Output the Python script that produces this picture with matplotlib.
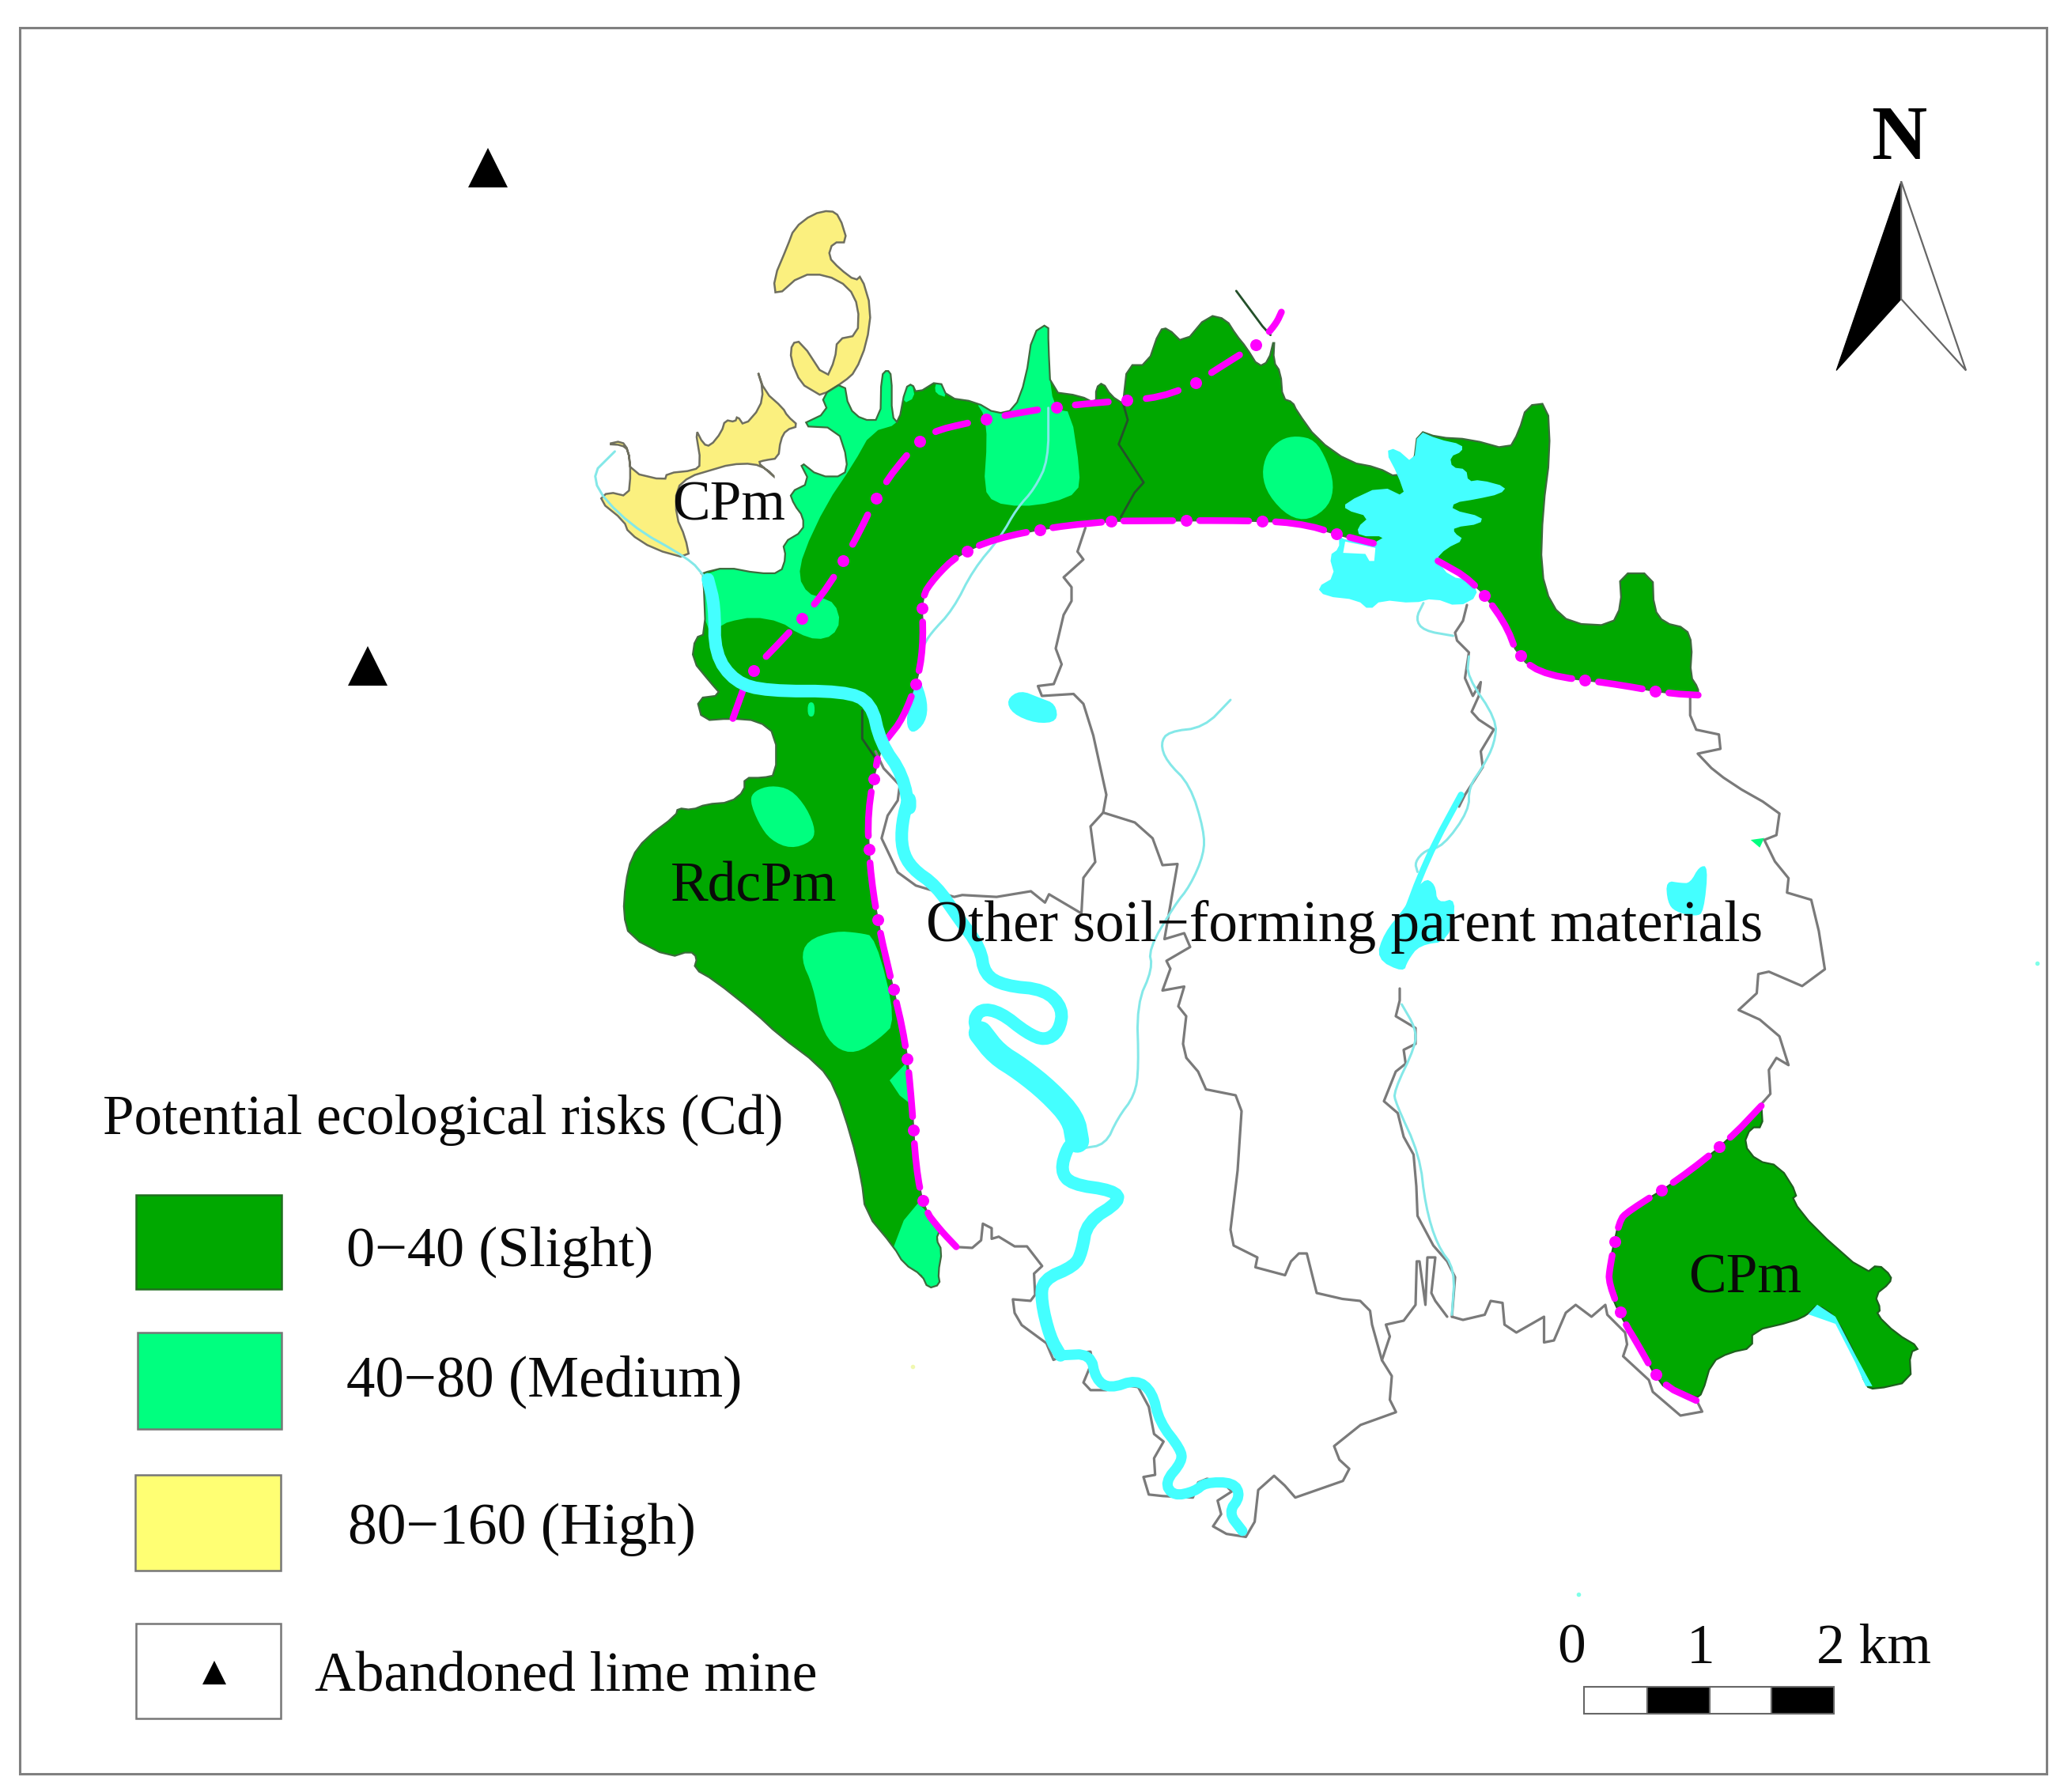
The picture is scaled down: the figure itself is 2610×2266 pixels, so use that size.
import math
import matplotlib
matplotlib.use('Agg')
import matplotlib.pyplot as plt
from matplotlib.patches import Polygon, Rectangle

plt.rcParams['font.family'] = ['Liberation Serif', 'DejaVu Serif']

C1 = (700, 230, .574, .5102)
C2 = (1400, 350, .5102, .4464)
C3 = (750, 950, .5102, .4783)
C4 = (1100, 1400, .4464, .3827)
C5 = (1900, 850, .3827, .6059)
C7 = (1250, 650, .5, .5)
C8 = (1500, 1250, .5, .5)
OV = (0, 0, 1.673, 1.673)


def px(crop, pts):
    return [(crop[0] + x * crop[2], crop[1] + y * crop[3]) for x, y in pts]


def smooth(pts, n=2, closed=True):
    for _ in range(n):
        new = [] if closed else [pts[0]]
        m = len(pts)
        for i in range(m if closed else m - 1):
            a, b = pts[i], pts[(i + 1) % m]
            new.append((.75 * a[0] + .25 * b[0], .75 * a[1] + .25 * b[1]))
            new.append((.25 * a[0] + .75 * b[0], .25 * a[1] + .75 * b[1]))
        if not closed:
            new.append(pts[-1])
        pts = new
    return pts


# ---- risk zones ----
zone_main = (
    px(C1, [(330, 975), (335, 1120), (312, 1130), (305, 1185), (345, 1240), (370, 1272), (315, 1280), (328, 1335),
            (390, 1330), (450, 1335), (490, 1370), (490, 1470)])
    + px(C3, [(420, 70), (375, 70), (375, 105), (340, 135), (280, 140), (245, 155), (210, 150), (205, 170), (130, 230),
              (95, 280), (80, 350), (75, 430), (90, 490), (190, 545), (240, 528), (258, 545), (250, 575), (300, 605),
              (400, 690), (460, 750), (560, 830), (600, 890), (640, 1020), (665, 1130), (675, 1220), (745, 1310),
              (770, 1355), (815, 1385), (830, 1420), (860, 1410), (855, 1380), (865, 1320), (850, 1290), (860, 1265),
              (820, 1210), (800, 1100), (790, 930), (775, 770), (740, 610), (705, 450), (685, 300), (680, 160),
              (705, 20)])
    + px(C1, [(735, 1380), (770, 1330), (805, 1225), (815, 1130), (810, 1030), (840, 980), (890, 925), (970, 885),
              (1100, 855), (1240, 840)])
    + px(C2, [(0, 692), (300, 690), (470, 695), (600, 740), (660, 755), (820, 805), (905, 860), (985, 975), (1020, 1080),
              (1090, 1130), (1240, 1150), (1390, 1180), (1465, 1185), (1465, 1165), (1445, 1130), (1450, 1040),
              (1435, 995), (1380, 980), (1355, 940), (1352, 840), (1270, 840), (1275, 930), (1250, 988), (1150, 982),
              (1100, 930), (1075, 830), (1080, 660), (1098, 500), (1092, 358), (1040, 365), (1020, 440), (995, 490),
              (900, 460), (820, 455), (770, 435), (760, 530), (720, 570), (670, 540), (600, 525), (520, 460), (470, 380),
              (460, 355), (435, 345), (430, 270), (412, 240), (415, 170), (400, 240), (375, 255), (345, 200), (320, 165),
              (295, 120), (250, 108), (190, 190), (150, 145), (130, 150), (100, 250), (50, 250), (40, 350)])
    + px(C1, [(1255, 550), (1228, 530), (1210, 497), (1195, 510), (1195, 550), (1160, 530), (1095, 520), (1090, 400),
              (1090, 350), (1055, 375), (1040, 490), (1015, 565), (975, 575), (930, 545), (868, 535), (850, 490),
              (800, 525), (790, 500), (775, 510), (760, 600), (745, 580), (745, 480), (735, 465), (722, 480), (720, 590),
              (680, 590), (650, 560), (640, 495), (590, 530), (605, 570), (540, 605), (625, 610), (648, 690), (640, 730),
              (585, 730), (540, 690), (565, 745), (520, 770), (530, 800), (550, 830), (550, 865), (505, 895), (512, 930),
              (500, 970), (450, 970), (380, 955), (325, 970)])
)
zone_south = px(C5, [(855, 900), (860, 950), (820, 950), (797, 985), (840, 1020), (915, 1030), (975, 1090), (955, 1100),
                     (1030, 1160), (1200, 1255), (1240, 1235), (1285, 1260), (1280, 1275), (1230, 1300), (1250, 1330),
                     (1235, 1340), (1300, 1380), (1380, 1410), (1345, 1420), (1350, 1480), (1230, 1497), (1200, 1490),
                     (1170, 1430), (1100, 1345), (1040, 1320), (1010, 1340), (960, 1355), (825, 1375), (825, 1410),
                     (750, 1420), (690, 1440), (660, 1505), (640, 1515), (560, 1500), (520, 1485), (440, 1395),
                     (405, 1360), (365, 1310), (345, 1270), (355, 1230), (385, 1145), (415, 1125), (580, 1060),
                     (750, 975)])

medium_west = px(C1, [(590, 530), (640, 495), (650, 560), (680, 590), (720, 590), (722, 480), (735, 465), (745, 480),
                      (745, 580), (760, 600), (700, 620), (660, 700), (600, 800), (550, 920), (540, 980), (560, 1020),
                      (590, 1030), (620, 1045), (632, 1090), (615, 1125), (580, 1135), (540, 1120), (500, 1090),
                      (440, 1078), (385, 1090), (370, 1100), (335, 1120), (330, 975), (380, 955), (450, 970), (500, 970),
                      (512, 930), (505, 895), (550, 865), (550, 830), (530, 800), (520, 770), (565, 745), (540, 690),
                      (585, 730), (640, 730), (648, 690), (625, 610), (540, 605), (605, 570)])
medium_north = px(C1, [(1085, 350), (1092, 350), (1090, 400), (1095, 520), (1110, 565), (1140, 570), (1160, 720),
                       (1155, 770), (1100, 795), (1030, 805), (970, 795), (948, 760), (955, 640), (950, 580), (930, 545),
                       (975, 575), (1015, 565), (1040, 490), (1055, 375)])
medium_slivers = [px(C1, [(775, 510), (790, 500), (796, 535), (770, 550)]),
                  px(C1, [(840, 505), (850, 490), (868, 535), (842, 525)])]
medium_blobs = [
    px(C2, [(470, 450), (515, 462), (545, 520), (563, 590), (550, 650), (500, 690), (450, 680), (400, 620), (383, 560),
            (395, 500), (430, 460)]),
    px(C3, [(440, 90), (490, 100), (530, 150), (552, 210), (540, 240), (490, 258), (440, 235), (410, 190), (388, 130),
            (400, 105)]),
    px(C1, [(560, 1290), (575, 1290), (575, 1325), (560, 1325)]),
    px(C3, [(600, 475), (660, 480), (700, 490), (752, 715), (710, 760), (650, 800), (600, 785), (565, 730), (545, 620),
            (515, 550), (530, 500)]),
]
medium_edge = [
    px(C3, [(775, 825), (735, 870), (760, 910), (790, 935)]),
    px(C3, [(805, 1195), (770, 1240), (745, 1310), (770, 1355), (815, 1385), (830, 1420), (860, 1410), (855, 1380),
            (865, 1320), (850, 1290), (860, 1265), (820, 1210)]),
    px(C1, [(250, 915), (290, 905), (303, 938)]),
]
medium_speck = px(C5, [(820, 350), (865, 346), (850, 366)])

high_north = px(C1, [(610, 70), (630, 85), (648, 150), (615, 150), (605, 185), (630, 215), (665, 245), (678, 232),
                     (700, 315), (690, 400), (665, 470), (640, 495), (590, 530), (575, 520), (545, 500), (522, 440),
                     (525, 400), (545, 395), (600, 490), (620, 440), (625, 390), (670, 380), (672, 310), (650, 260),
                     (600, 230), (545, 230), (490, 285), (485, 240), (515, 160), (530, 115), (570, 80)])
high_west = px(C1, [(118, 650), (150, 642), (165, 665), (170, 720), (245, 740), (250, 722), (310, 715), (325, 700),
                    (312, 610), (330, 650), (345, 655), (370, 620), (378, 590), (400, 595), (405, 580), (420, 605),
                    (455, 560), (462, 515), (447, 460), (465, 520), (505, 560), (515, 580), (540, 605), (512, 615),
                    (500, 640), (495, 685), (465, 690), (450, 695), (470, 715), (490, 735), (470, 712), (440, 698),
                    (390, 700), (345, 715), (300, 730), (270, 760), (270, 830), (290, 880), (300, 935), (220, 910),
                    (165, 870), (155, 840), (100, 790), (120, 768), (165, 780), (170, 720), (165, 665), (150, 652)])

# ---- water ----
lake = px(C2, [(770, 435), (820, 460), (880, 475), (880, 495), (850, 510), (855, 540), (890, 545), (895, 580), (925, 575),
               (990, 595), (975, 615), (915, 630), (860, 640), (855, 660), (930, 680), (925, 700), (860, 710), (860, 725),
               (885, 745), (840, 770), (815, 800), (850, 850), (905, 860), (920, 905), (870, 935), (810, 910), (760, 925),
               (680, 915), (650, 945), (620, 915), (540, 905), (520, 880), (565, 850), (550, 790), (575, 770), (575, 735),
               (590, 745), (620, 750), (660, 755), (690, 735), (625, 735), (620, 710), (650, 680), (590, 660), (590, 640),
               (680, 592), (740, 625), (720, 560), (690, 495), (715, 485), (760, 530)])
lake_hole = px(C2, [(585, 782), (640, 785), (650, 805), (662, 805), (665, 768), (625, 758), (590, 750)])
ponds = [
    px(C7, [(45, 470), (80, 445), (130, 465), (170, 480), (175, 525), (120, 530), (60, 505)]),
    px(C1, [(805, 1225), (825, 1290), (820, 1340), (790, 1370), (775, 1340), (790, 1270)]),
    px(C5, [(540, 435), (590, 440), (620, 440), (650, 405), (680, 405), (665, 500), (640, 510), (570, 500), (545, 480)]),
    px(C7, [(1000, 1060), (1050, 1000), (1100, 920), (1130, 935), (1135, 985), (1185, 970), (1165, 1080), (1090, 1090),
            (1060, 1130), (1050, 1160), (980, 1125)]),
]
sliver_south = px(C5, [(1010, 1340), (1040, 1320), (1100, 1345), (1170, 1430), (1222, 1490), (1200, 1490), (1165, 1440),
                       (1100, 1360)])
specks = [(1193, 1205, '#7fffe8'), (1540, 728, '#7fffe8'), (690, 1033, '#f0f8b0')]

river_upper = px(C1, [(340, 985), (355, 1050), (355, 1170), (400, 1240), (470, 1262), (640, 1262), (700, 1290), (720, 1390),
                      (770, 1470), (785, 1568)]) + px(C3, [(785, 110), (765, 190), (765, 260), (790, 310), (850, 355),
                                                          (905, 440), (960, 520), (970, 590), (1020, 620), (1120, 630),
                                                          (1165, 680), (1155, 740), (1120, 765), (1075, 745), (1010, 690),
                                                          (960, 680), (940, 720), (980, 785)])
river_wide = px(C3, [(960, 745), (1000, 800), (1060, 840), (1130, 900), (1190, 970), (1200, 1030)])
river_lower = px(C4, [(585, 112), (560, 130), (540, 210), (570, 255), (690, 275), (710, 310), (615, 380), (600, 480),
                      (580, 525), (490, 570), (485, 640), (510, 760), (540, 820)])
river_south = px(C4, [(540, 820), (625, 815), (640, 900), (680, 930), (755, 900), (800, 940), (820, 1040), (880, 1130),
                      (885, 1170), (835, 1240), (860, 1285), (920, 1270), (950, 1240), (1030, 1240), (1050, 1285),
                      (1015, 1340), (1055, 1400)])
river_tangle = px(C7, [(1195, 710), (1130, 830), (1090, 920), (1060, 1000)])

streams = [
    px(C1, [(135, 668), (75, 735), (165, 850), (300, 935), (330, 975)]),
    px(C1, [(1090, 560), (1090, 690), (1060, 760), (1020, 810), (985, 880), (925, 960), (880, 1060), (830, 1120),
            (815, 1150)]),
    px(C7, [(612, 470), (545, 540), (455, 550), (435, 580), (450, 625), (510, 685), (545, 800), (545, 860), (510, 940),
            (470, 990), (405, 1100), (415, 1150), (375, 1240), (380, 1400), (370, 1470)])
    + px(C3, [(1300, 970), (1270, 1040), (1210, 1050)]),
    px(C7, [(1100, 225), (1080, 265), (1100, 295), (1175, 308)]),
    px(C7, [(1215, 360), (1210, 410), (1285, 520), (1280, 580), (1250, 640), (1215, 690), (1215, 750), (1150, 840),
            (1105, 850), (1078, 880), (1085, 905)]),
    px(C8, [(545, 40), (580, 100), (580, 145), (525, 260), (530, 290), (590, 420), (605, 550), (635, 650), (680, 710),
            (672, 825)]),
]

# ---- boundaries ----
border_sw = px(C4, [(245, 462), (290, 465), (315, 440), (320, 385), (345, 400), (345, 435), (365, 428), (410, 460),
                    (445, 460), (488, 525), (465, 550), (468, 620), (455, 640), (405, 635), (410, 680), (430, 720),
                    (500, 780), (520, 835), (560, 815), (625, 808), (630, 840), (605, 910), (625, 935), (670, 935),
                    (720, 918), (760, 925), (790, 990), (805, 1080), (832, 1105), (805, 1160), (808, 1215), (775, 1222),
                    (790, 1280), (830, 1285), (915, 1290), (930, 1240), (955, 1228), (1000, 1240), (1025, 1270),
                    (985, 1300), (995, 1345), (972, 1385), (1010, 1410), (1065, 1420), (1090, 1370), (1100, 1265),
                    (1145, 1218), (1175, 1250), (1205, 1290), (1340, 1235), (1358, 1195), (1330, 1165), (1315, 1120),
                    (1390, 1050), (1490, 1008)])
border_mid = (
    px(C8, [(530, 1070), (515, 1040), (520, 980), (495, 940), (470, 850), (465, 815), (440, 790), (395, 785), (330, 770),
            (305, 670), (285, 670), (265, 690), (250, 725), (175, 705), (180, 680), (120, 650), (112, 610), (130, 460),
            (140, 310), (125, 270), (50, 255), (30, 210), (0, 175)])
    + px(C7, [(500, 1374), (492, 1340), (500, 1270), (480, 1245), (495, 1195), (440, 1205), (460, 1150), (450, 1130),
              (510, 1095), (495, 1060), (445, 1075), (478, 885), (440, 888), (415, 820), (370, 780), (290, 755),
              (298, 710), (265, 560), (240, 480), (215, 455), (135, 460), (125, 435), (165, 430), (185, 380), (170, 340),
              (190, 255), (210, 220), (210, 185), (190, 160), (240, 115), (225, 95), (245, 35)])
)
border_branch = (
    px(C7, [(290, 755), (258, 790), (270, 880), (240, 920), (235, 1010)])
    + px(C3, [(1130, 378), (1120, 400), (1085, 370), (1000, 385), (915, 380), (895, 385), (800, 355), (755, 320), (715, 230),
              (730, 170), (755, 130), (760, 90), (720, 45), (700, 0)])
)
border_east = (
    px(C7, [(1210, 230), (1200, 270), (1180, 300), (1185, 320), (1215, 350), (1205, 415), (1225, 460), (1245, 425),
            (1240, 460), (1222, 500), (1240, 520), (1278, 545), (1245, 600), (1250, 640), (1205, 710), (1190, 740)])
)
border_stem = px(C8, [(540, 0), (540, 30), (530, 70), (580, 100), (580, 140), (550, 155), (555, 190), (530, 210), (500, 285),
                      (535, 315), (550, 375), (575, 420), (582, 500), (585, 575), (625, 650), (660, 690), (680, 730),
                      (672, 830)])
border_south = px(C8, [(660, 830), (630, 790), (620, 770), (630, 680), (610, 680), (605, 800), (590, 690), (583, 690),
                       (580, 800), (550, 840), (505, 850), (515, 880), (495, 940)])
border_se = px(C8, [(672, 830), (700, 838), (755, 825), (770, 790), (800, 795), (805, 850), (835, 870), (905, 830), (905, 895),
                    (930, 890), (960, 820), (985, 800), (1025, 830), (1060, 800), (1065, 825), (1110, 870), (1115, 900),
                    (1105, 930), (1170, 990), (1180, 1020), (1250, 1080), (1305, 1070), (1290, 1040)])
border_ne = px(C5, [(620, 50), (620, 90), (640, 120), (715, 130), (720, 160), (645, 170), (690, 200), (730, 220), (790, 245),
                    (860, 270), (915, 295), (905, 340), (865, 350), (900, 395), (945, 430), (940, 460), (1020, 475),
                    (1045, 540), (1065, 620), (990, 655), (880, 625), (845, 630), (840, 670), (780, 705), (850, 725),
                    (915, 760), (945, 820), (905, 805), (880, 830), (885, 880), (850, 905)])
border_in_green = [px(C1, [(1255, 550), (1265, 590), (1245, 650), (1300, 745), (1280, 770), (1250, 830)]),
                   px(C1, [(680, 1310), (680, 1380), (710, 1430)]),
                   px(C2, [(320, 40), (385, 140), (405, 165)])]

# parent material boundaries
line_cpm_north = px(C1, [(395, 1330), (430, 1220), (500, 1140), (590, 1030), (660, 900), (720, 760), (790, 660), (830, 620),
                         (920, 595), (1085, 560), (1220, 545), (1340, 535), (1430, 490)]) \
    + px(C2, [(240, 285), (330, 220), (365, 195), (395, 165), (420, 130), (432, 100)])
line_rdc_east = px(C3, [(900, 1310), (860, 1265), (820, 1210), (800, 1100), (790, 930), (775, 770), (740, 610), (705, 450),
                        (685, 300), (680, 160), (705, 20)])
line_rdc_north = px(C1, [(735, 1380), (770, 1330), (805, 1225), (815, 1130), (810, 1030), (840, 980), (890, 925), (970, 885),
                         (1100, 855), (1240, 840)]) + px(C2, [(0, 692), (300, 690), (470, 695), (590, 735), (660, 755)])
line_lake_east = px(C2, [(820, 805), (905, 860), (985, 975), (1020, 1080), (1090, 1130), (1240, 1150), (1390, 1180),
                         (1465, 1185)])
line_south = px(C5, [(855, 905), (750, 975), (580, 1060), (415, 1125), (385, 1145), (355, 1240), (350, 1275), (405, 1360),
                     (440, 1395), (520, 1485), (640, 1520)])

# ---- sites, legend, scale ----
mines_x = [369, 278]
mines_y = [127, 503]
legend_boxes = [(103, 903, 110, 71, '#00a800', '#1f6f1f'), (104, 1007, 109, 73, '#00ff7f', '#777777'),
                (102, 1115, 110, 72, '#ffff73', '#777777'), (103, 1227, 109, 72, '#ffffff', '#777777')]
scale_edges = [1197, 1245, 1292, 1339, 1386]
scale_fill = ['white', 'black', 'white', 'black']
labels = [('CPm', 508, 393, 51.5), ('RdcPm', 507, 681, 51.5), ('Other soil\u2212forming parent materials', 700, 711, 52.8),
          ('CPm', 1276, 977, 51.5), ('Potential ecological risks (Cd)', 78, 857, 51), ('0\u221240 (Slight)', 262, 957, 52),
          ('40\u221280 (Medium)', 262, 1055, 52.5), ('80\u2212160 (High)', 263, 1167, 53),
          ('Abandoned lime mine', 238, 1278, 51.5), ('0', 1177, 1257, 51.5), ('1', 1275, 1257, 51.5),
          ('2 km', 1373, 1257, 51.5)]

DARK, MEDIUM, YELLOW, CYAN, MAGENTA = '#00a800', '#00ff7f', '#fbf07f', '#44ffff', '#ff00ff'
THIN, GREY = '#84e8e8', '#7a7a7a'

fig = plt.figure(figsize=(26.1, 22.66), dpi=100)
ax = fig.add_axes([0, 0, 1, 1])
ax.set_xlim(0, 2610)
ax.set_ylim(2266, 0)
ax.axis('off')


def line(pts, color, lw, **kw):
    ax.plot([p[0] for p in pts], [p[1] for p in pts], color=color, lw=lw * .72, solid_joinstyle='round',
            solid_capstyle='round', **kw)


def dash_dot(pts, dash, gap, lw=8.5, dot=15):
    # walk along the line, long dash then round dot, like the map's line symbol
    pts = smooth(pts, 2, closed=False)
    lengths = [math.dist(a, b) for a, b in zip(pts[:-1], pts[1:])]
    cycle = [('dash', dash), ('gap', gap), ('dot', 0), ('gap', gap)]
    idx, left, cur, dots = 0, dash, [pts[0]], []
    for a, b, seg in zip(pts[:-1], pts[1:], lengths):
        done = 0
        while seg - done > left:
            done += left
            t = done / seg
            q = (a[0] + (b[0] - a[0]) * t, a[1] + (b[1] - a[1]) * t)
            if cycle[idx][0] == 'dash':
                cur.append(q)
                line(cur, MAGENTA, lw)
            idx = (idx + 1) % 4
            if cycle[idx][0] == 'dot':
                dots.append(q)
                idx = (idx + 1) % 4
            left = cycle[idx][1]
            cur = [q]
        left -= seg - done
        if cycle[idx][0] == 'dash':
            cur.append(b)
    if cycle[idx][0] == 'dash' and len(cur) > 1:
        line(cur, MAGENTA, lw)
    ax.plot([d[0] for d in dots], [d[1] for d in dots], 'o', color=MAGENTA, ms=dot * .72, mew=0, ls='none')


# frame
ax.add_patch(Rectangle((25, 35), 2563, 2208, fc='white', ec='#808080', lw=2.2))

main_shape = smooth(zone_main, 1)
south_shape = smooth(zone_south, 1)
main_patch = Polygon(main_shape, fc=DARK, ec='none')
ax.add_patch(main_patch)
ax.add_patch(Polygon(south_shape, fc=DARK, ec='none'))
for p in [medium_west, medium_north] + medium_slivers:
    ax.add_patch(Polygon(smooth(p, 1), fc=MEDIUM, ec='none', clip_path=main_patch))
for p in medium_blobs:
    ax.add_patch(Polygon(smooth(p), fc=MEDIUM, ec='none', clip_path=main_patch))
for p in medium_edge:
    ax.add_patch(Polygon(p, fc=MEDIUM, ec='none', clip_path=main_patch))
ax.add_patch(Polygon(medium_speck, fc=MEDIUM, ec='none'))
ax.add_patch(Polygon(smooth(high_north, 1), fc=YELLOW, ec='#6f6f60', lw=1.8))
ax.add_patch(Polygon(smooth(high_west, 1), fc=YELLOW, ec='#6f6f60', lw=1.8))
ax.add_patch(Polygon(main_shape, fill=False, ec='#3d6b3d', lw=1.6))
ax.add_patch(Polygon(south_shape, fill=False, ec='#1e5f1e', lw=1.6))

for p in [border_sw, border_mid, border_branch, border_east, border_stem, border_south, border_se, border_ne]:
    line(p, GREY, 3.2)
for p in border_in_green:
    line(p, '#24502a', 2.8)

for p in streams:
    line(smooth(p, 2, closed=False), THIN, 3)

# magenta dash-dot lines
dash_dot(line_cpm_north, 42, 24)
dash_dot(line_rdc_east, 56, 17)
dash_dot(line_rdc_north, 62, 17)
dash_dot(line_lake_east, 56, 17)
dash_dot(line_south, 56, 18)

line(smooth(river_upper, 2, closed=False), CYAN, 16)
line(smooth(river_wide, 2, closed=False), CYAN, 30)
line(smooth(river_lower, 2, closed=False), CYAN, 16)
line(smooth(river_south, 2, closed=False), CYAN, 13)
line(smooth(river_tangle, 1, closed=False), CYAN, 8)
ax.add_patch(Polygon(smooth(lake, 1), fc=CYAN, ec='none'))
ax.add_patch(Polygon(lake_hole, fc='white', ec='none'))
for p in ponds:
    ax.add_patch(Polygon(smooth(p), fc=CYAN, ec='none'))
ax.add_patch(Polygon(sliver_south, fc=CYAN, ec='none'))
for x, y, c in specks:
    ax.plot(x * OV[2], y * OV[3], 'o', color=c, ms=3)

# mines
ax.plot([x * OV[2] for x in mines_x], [y * OV[3] for y in mines_y], '^', color='black', ms=36, mew=0, ls='none')

# legend
for x, y, w, h, fc, ec in legend_boxes:
    ax.add_patch(Rectangle((x * OV[2], y * OV[3]), w * OV[2], h * OV[3], fc=fc, ec=ec, lw=1.8))
ax.plot([162 * OV[2]], [1264 * OV[3]], '^', color='black', ms=22, mew=0)

# scale bar
for a, b, c in zip(scale_edges[:-1], scale_edges[1:], scale_fill):
    ax.add_patch(Rectangle((a * OV[2], 1275 * OV[3]), (b - a) * OV[2], 20 * OV[3], fc=c, ec='#666666', lw=1.5))

# north arrow
ax.add_patch(Polygon(px(OV, [(1437, 137), (1437, 226), (1388, 280)]), fc='black', ec='black', lw=.8))
ax.add_patch(Polygon(px(OV, [(1437, 137), (1486, 280), (1437, 226)]), fc='white', ec='#666666', lw=1.6))
ax.text(1435 * OV[2], 120 * OV[3], 'N', fontsize=70, fontweight='bold', ha='center', va='baseline', color='black')

for s, x, y, size in labels:
    ax.text(x * OV[2], y * OV[3], s, fontsize=size, ha='left', va='baseline', color='#0a0a0a')

fig.savefig('out.png', dpi=100)
